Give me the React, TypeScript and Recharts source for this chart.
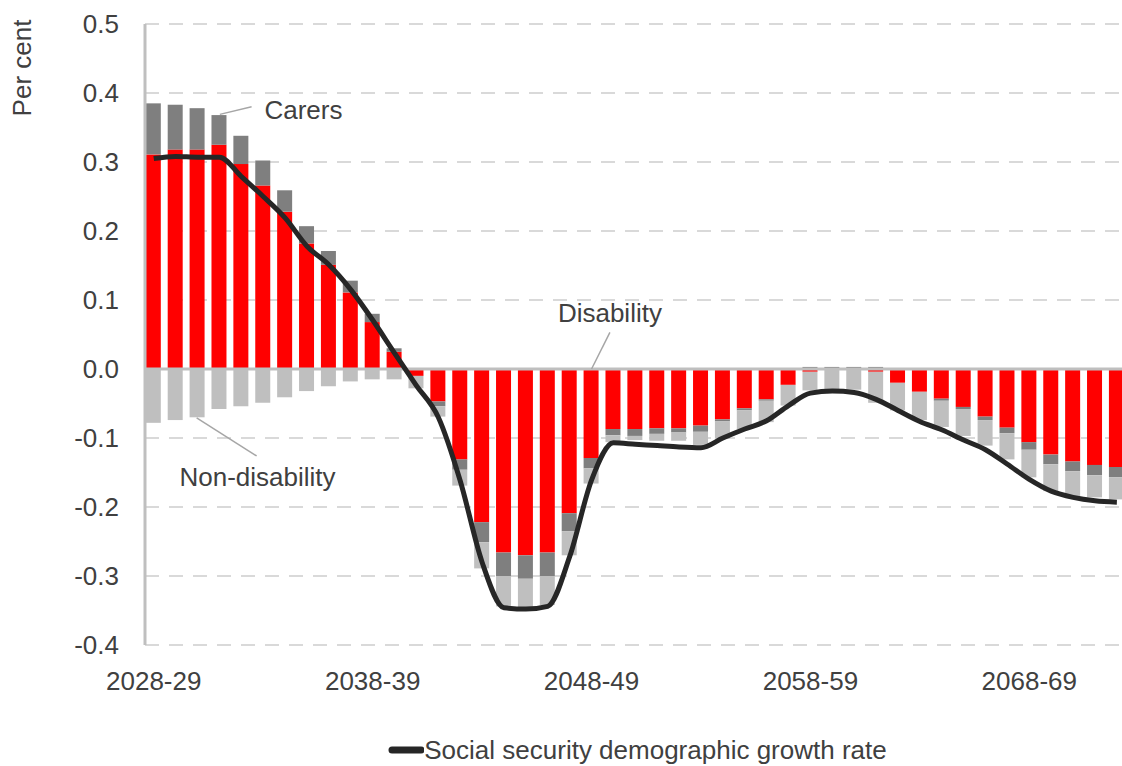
import React from 'react';
import {
  ComposedChart,
  Bar,
  Line,
  XAxis,
  YAxis,
  CartesianGrid,
  ReferenceLine,
  ReferenceDot,
  Legend,
} from 'recharts';

const years = [
  '2028-29', '2029-30', '2030-31', '2031-32', '2032-33', '2033-34', '2034-35', '2035-36', '2036-37', '2037-38',
  '2038-39', '2039-40', '2040-41', '2041-42', '2042-43', '2043-44', '2044-45', '2045-46', '2046-47', '2047-48',
  '2048-49', '2049-50', '2050-51', '2051-52', '2052-53', '2053-54', '2054-55', '2055-56', '2056-57', '2057-58',
  '2058-59', '2059-60', '2060-61', '2061-62', '2062-63', '2063-64', '2064-65', '2065-66', '2066-67', '2067-68',
  '2068-69', '2069-70', '2070-71', '2071-72', '2072-73',
];

const disability = [
  0.311, 0.318, 0.318, 0.325, 0.297, 0.266, 0.228, 0.182, 0.151, 0.111,
  0.068, 0.025, -0.010, -0.047, -0.131, -0.222, -0.266, -0.270, -0.266, -0.209,
  -0.129, -0.087, -0.087, -0.086, -0.086, -0.082, -0.073, -0.057, -0.044, -0.023,
  -0.004, 0, 0, -0.004, -0.020, -0.033, -0.043, -0.055, -0.069, -0.085,
  -0.106, -0.124, -0.134, -0.139, -0.142,
];

const carers = [
  0.074, 0.065, 0.060, 0.043, 0.041, 0.036, 0.031, 0.025, 0.020, 0.017,
  0.012, 0.005, 0, -0.007, -0.015, -0.029, -0.034, -0.034, -0.034, -0.026,
  -0.015, -0.009, -0.010, -0.008, -0.006, -0.009, -0.003, -0.003, -0.002, 0,
  0.003, 0.003, 0.003, 0.003, 0, 0, -0.003, -0.003, -0.005, -0.008,
  -0.011, -0.014, -0.014, -0.015, -0.015,
];

const nonDisability = [
  -0.078, -0.074, -0.070, -0.058, -0.054, -0.049, -0.041, -0.032, -0.025, -0.018,
  -0.015, -0.015, -0.018, -0.015, -0.023, -0.038, -0.044, -0.043, -0.042, -0.035,
  -0.022, -0.010, -0.006, -0.010, -0.012, -0.019, -0.025, -0.027, -0.031, -0.030,
  -0.027, -0.029, -0.030, -0.045, -0.040, -0.041, -0.038, -0.039, -0.037, -0.038,
  -0.040, -0.039, -0.037, -0.032, -0.032,
];

const growthRate = [
  0.305, 0.308, 0.307, 0.307, 0.279, 0.250, 0.219, 0.178, 0.151, 0.115,
  0.071, 0.023, -0.024, -0.070, -0.162, -0.280, -0.346, -0.348, -0.344, -0.272,
  -0.161, -0.107, -0.109, -0.111, -0.113, -0.114, -0.100, -0.087, -0.075, -0.053,
  -0.035, -0.032, -0.034, -0.044, -0.060, -0.076, -0.088, -0.103, -0.117, -0.138,
  -0.160, -0.177, -0.186, -0.191, -0.193,
];

const xTicks = [0, 10, 20, 30, 40];
const yTicks = [-0.4, -0.3, -0.2, -0.1, 0, 0.1, 0.2, 0.3, 0.4, 0.5];

// annotation labels (data coordinates: x = year index, y = per cent)
const annotationLabels = [
  { text: 'Carers', x: 6.84, y: 0.376 },
  { text: 'Disability', x: 20.84, y: 0.082 },
  { text: 'Non-disability', x: 4.74, y: -0.156 },
];
const leaderLines = [
  [{ x: 3.02, y: 0.369 }, { x: 4.47, y: 0.38 }],
  [{ x: 20.0, y: 0.0 }, { x: 20.84, y: 0.053 }],
  [{ x: 1.96, y: -0.071 }, { x: 4.7, y: -0.126 }],
];

const data = years.map((year, i) => ({
  idx: i,
  year,
  disability: disability[i],
  carers: carers[i],
  nonDisability: nonDisability[i],
  growth: growthRate[i],
}));

const FONT = 'Liberation Sans, Arial, sans-serif';
const TEXT = '#404040';

const renderLegend = () => (
  <div
    style={{
      display: 'flex',
      justifyContent: 'center',
      alignItems: 'center',
      height: 32,
      fontSize: 26,
      color: TEXT,
      fontFamily: FONT,
      whiteSpace: 'nowrap',
    }}
  >
    <svg width={36} height={12} style={{ display: 'block' }}>
      <line x1={4} y1={6} x2={33} y2={6} stroke="#262626" strokeWidth={7} strokeLinecap="round" />
    </svg>
    <span>Social security demographic growth rate</span>
  </div>
);

const perCentLabel = (props: any) => {
  const vb = props.viewBox || { x: 0, y: 0 };
  const cx = vb.x + 22;
  const cy = vb.y + 44;
  return (
    <text
      x={cx}
      y={cy}
      transform={`rotate(-90 ${cx} ${cy})`}
      textAnchor="middle"
      dominantBaseline="central"
      fontSize={26}
      fill={TEXT}
      fontFamily={FONT}
    >
      Per cent
    </text>
  );
};

export default function App() {
  return (
    <div
      style={{
        position: 'fixed',
        left: 0,
        top: 0,
        width: 1122,
        height: 766,
        overflow: 'hidden',
        background: '#fff',
      }}
    >
      <ComposedChart
        width={1140}
        height={766}
        data={data}
        stackOffset="sign"
        margin={{ top: 24, right: 10, left: 0, bottom: 0 }}
        style={{ fontFamily: FONT }}
      >
        <CartesianGrid vertical={false} stroke="#d9d9d9" strokeWidth={2} strokeDasharray="14 10" />
        <XAxis
          dataKey="idx"
          type="number"
          domain={[-0.4, 44.6]}
          ticks={xTicks}
          tickFormatter={(v: number) => years[v] ?? ''}
          axisLine={false}
          tickLine={false}
          tickSize={0}
          tickMargin={27}
          height={89}
          interval={0}
          tick={{ fontSize: 26, fill: TEXT, fontFamily: FONT }}
        />
        <YAxis
          type="number"
          domain={[-0.4, 0.5]}
          ticks={yTicks}
          tickFormatter={(v: number) => v.toFixed(1)}
          width={145}
          axisLine={{ stroke: '#bfbfbf', strokeWidth: 3 }}
          tickLine={false}
          tickSize={0}
          tickMargin={26}
          interval={0}
          tick={{ fontSize: 26, fill: TEXT, fontFamily: FONT }}
          label={{ content: perCentLabel }}
        />
        <Bar dataKey="disability" stackId="a" fill="#ff0000" barSize={15} isAnimationActive={false} />
        <Bar dataKey="carers" stackId="a" fill="#7f7f7f" barSize={15} isAnimationActive={false} />
        <Bar dataKey="nonDisability" stackId="a" fill="#bfbfbf" barSize={15} isAnimationActive={false} />
        <ReferenceLine y={0} stroke="#bfbfbf" strokeWidth={3} />
        {leaderLines.map((seg, i) => (
          <ReferenceLine key={`l${i}`} segment={seg} stroke="#a6a6a6" strokeWidth={1.5} ifOverflow="visible" />
        ))}
        {annotationLabels.map((a) => (
          <ReferenceDot
            key={a.text}
            x={a.x}
            y={a.y}
            r={0}
            fill="none"
            stroke="none"
            ifOverflow="visible"
            label={{ value: a.text, position: 'center', fontSize: 26, fill: TEXT, fontFamily: FONT }}
          />
        ))}
        <Line
          dataKey="growth"
          type="monotone"
          stroke="#262626"
          strokeWidth={5}
          dot={false}
          activeDot={false}
          isAnimationActive={false}
          name="Social security demographic growth rate"
        />
        <Legend
          verticalAlign="bottom"
          content={renderLegend}
          wrapperStyle={{ left: 145, width: 985 }}
        />
      </ComposedChart>
    </div>
  );
}
